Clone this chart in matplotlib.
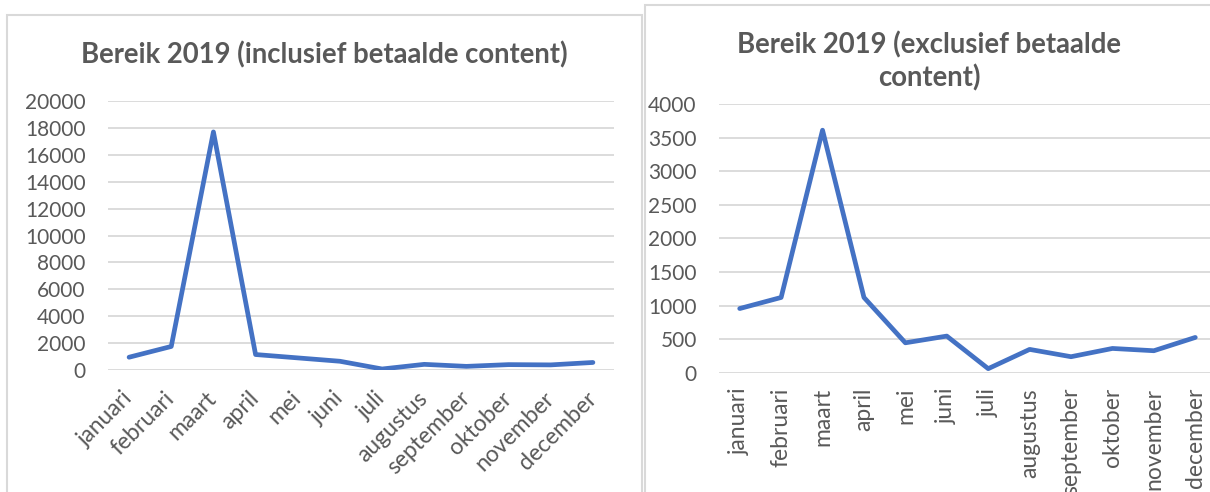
import matplotlib
matplotlib.use("Agg")
import matplotlib.pyplot as plt
from matplotlib.patches import Rectangle

plt.rcParams['font.family'] = ['Lato', 'DejaVu Sans']

maanden = ['januari', 'februari', 'maart', 'april', 'mei', 'juni', 'juli',
           'augustus', 'september', 'oktober', 'november', 'december']

# bereik inclusief betaalde content
bereik_incl = [950, 1750, 17700, 1150, 900, 650, 75, 420, 270, 400, 380, 560]
# bereik exclusief betaalde content
bereik_excl = [955, 1120, 3610, 1120, 445, 545, 60, 347, 238, 361, 327, 525]

yticks_incl = list(range(0, 20001, 2000))
yticks_excl = list(range(0, 4001, 500))

lijn_kleur = '#4472C4'
grid_kleur = '#D9D9D9'
tekst_kleur = '#595959'

fig = plt.figure(figsize=(12.1, 4.92), dpi=100)

# chart frames like the excel boxes
fig.patches.append(Rectangle((7 / 1210, -0.1), 635 / 1210, 1.1 - 15 / 492,
                             transform=fig.transFigure, fill=False,
                             edgecolor=grid_kleur, lw=1.5))
fig.patches.append(Rectangle((645 / 1210, -0.1), 600 / 1210, 1.1 - 5 / 492,
                             transform=fig.transFigure, fill=False,
                             edgecolor=grid_kleur, lw=1.5))


def style_axes(ax, data, yticks):
    ax.plot(range(len(maanden)), data, color=lijn_kleur, lw=3.4,
            solid_capstyle='round', solid_joinstyle='round', zorder=3)
    ax.set_xlim(-0.5, len(maanden) - 0.5)
    ax.set_ylim(yticks[0], yticks[-1])
    ax.set_yticks(yticks)
    ax.set_yticklabels([str(t) for t in yticks])
    ax.set_xticks(range(len(maanden)))
    ax.grid(axis='y', color=grid_kleur, lw=1.3, zorder=0)
    ax.set_axisbelow(True)
    for s in ax.spines.values():
        s.set_visible(False)
    ax.tick_params(length=0, labelcolor=tekst_kleur)
    ax.tick_params(axis='y', labelsize=15, pad=16)
    ax.tick_params(axis='x', labelsize=16.5)
    ax.patch.set_alpha(0)


# left chart
ax1 = fig.add_axes([108 / 1210, 1 - 370 / 492, 506 / 1210, 269 / 492])
style_axes(ax1, bereik_incl, yticks_incl)
ax1.set_xticklabels(maanden, rotation=45, ha='right', va='center',
                    rotation_mode='anchor')
ax1.tick_params(axis='x', pad=18)
fig.text(324 / 1210, 1 - 63 / 492, 'Bereik 2019 (inclusief betaalde content)',
         ha='center', va='baseline', fontsize=19.8, fontweight='bold',
         color=tekst_kleur)

# right chart
ax2 = fig.add_axes([719 / 1210, 1 - 372.7 / 492, 497 / 1210, 268.7 / 492])
style_axes(ax2, bereik_excl, yticks_excl)
ax2.set_xticklabels(maanden, rotation=90, ha='center', va='top')
ax2.tick_params(axis='x', pad=11)
fig.text(929 / 1210, 1 - 53 / 492, 'Bereik 2019 (exclusief betaalde',
         ha='center', va='baseline', fontsize=19.8, fontweight='bold',
         color=tekst_kleur)
fig.text(929 / 1210, 1 - 86 / 492, 'content)',
         ha='center', va='baseline', fontsize=19.8, fontweight='bold',
         color=tekst_kleur)

fig.savefig('out.png', dpi=100)
